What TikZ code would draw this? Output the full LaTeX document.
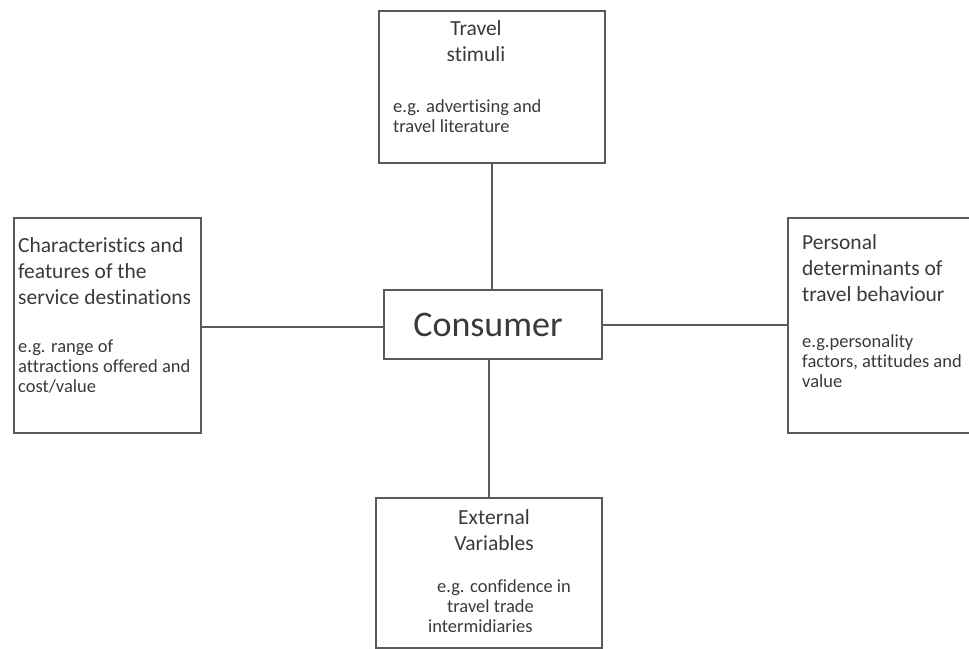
\documentclass[tikz,border=0pt]{standalone}
\usepackage{fontspec}
\setmainfont{Carlito}[Ligatures=NoCommon]
\definecolor{boxline}{HTML}{5A5A5A}
\definecolor{txt}{HTML}{3A3A3A}
\begin{document}
\begin{tikzpicture}[x=1pt,y=-1pt,
  box/.style={draw=boxline, line width=1.6pt, rectangle, inner sep=0pt, anchor=north west},
  conn/.style={draw=boxline, line width=1.6pt},
  title/.style={text=txt, inner sep=0pt, font=\fontsize{21.5}{26}\selectfont},
  small/.style={text=txt, inner sep=0pt, font=\fontsize{18.5}{20}\selectfont},
  big/.style={text=txt, inner sep=0pt, font=\fontsize{36}{40}\selectfont}]
\useasboundingbox[fill=white] (0,0) rectangle (969,648);
% boxes
\node[box, minimum width=226pt, minimum height=152pt] (top) at (378,10) {};
\node[box, minimum width=187pt, minimum height=215pt] (left) at (13,217) {};
\node[box, minimum width=200pt, minimum height=215pt] (right) at (787,217) {};
\node[box, minimum width=226pt, minimum height=150pt] (bottom) at (375,497) {};
\node[box, minimum width=218pt, minimum height=69pt] (cons) at (383,289) {};
% connectors
\draw[conn] (cons.north -| top.south) -- (top.south);
\draw[conn] (cons.south -| bottom.north) -- (bottom.north);
\draw[conn] (left.east |- 0,327) -- (cons.west |- 0,327);
\draw[conn] (cons.east |- 0,325) -- (right.west |- 0,325);
% texts (base anchor = baseline of the last line)
\node[big, anchor=base] (tcons) at (488,336) {Consumer};
\node[title, anchor=base, align=center] (ttop) at (476,61) {Travel\\stimuli};
\node[small, anchor=base west, align=left] (stop) at (393,132) {e.g. advertising and\\travel literature};
\node[title, anchor=base west, align=left] (tleft) at (18,304) {Characteristics and\\features of the\\service destinations};
\node[small, anchor=base west, align=left] (sleft) at (18,392) {e.g. range of\\attractions offered and\\cost/value};
\node[title, anchor=base west, align=left] (tright) at (802,301) {Personal\\determinants of\\travel behaviour};
\node[small, anchor=base west, align=left] (sright) at (802,387) {e.g.personality\\factors, attitudes and\\value};
\node[title, anchor=base, align=center] (tbot) at (494,550) {External\\Variables};
\node[small, anchor=base west] (sbot1) at (437,592) {e.g. confidence in};
\node[small, anchor=base west] (sbot2) at (447,612) {travel trade};
\node[small, anchor=base west] (sbot3) at (428,632) {intermidiaries};
\end{tikzpicture}
\end{document}
